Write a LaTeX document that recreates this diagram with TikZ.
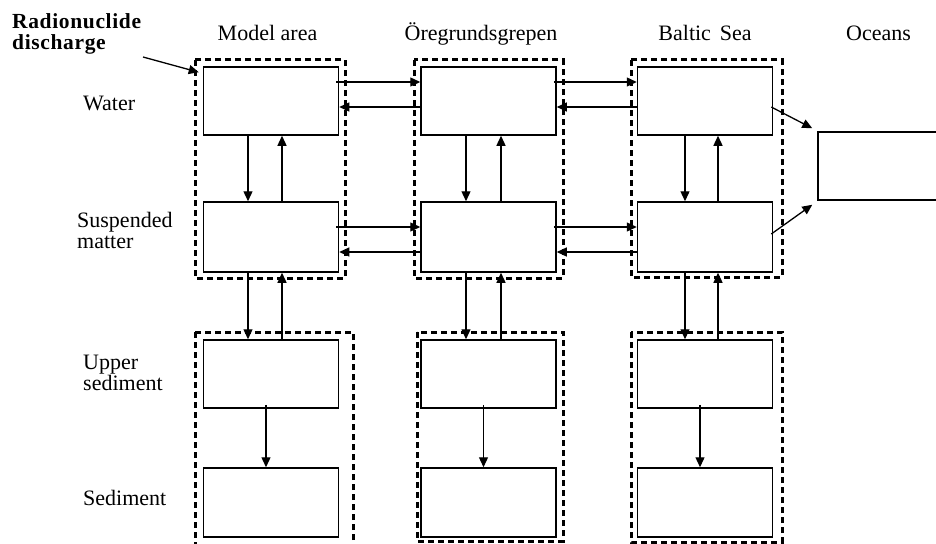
\documentclass[tikz,border=0pt]{standalone}
\usepackage{fontspec}
\setmainfont{Liberation Serif}
\usetikzlibrary{arrows.meta,calc}
\begin{document}
\begin{tikzpicture}[x=1pt,y=-1pt,
  box/.style={draw, line width=1.5pt, minimum width=135pt, minimum height=68pt, inner sep=0pt},
  grp/.style={draw, line width=3pt, dash pattern=on 6pt off 4pt},
  arr/.style={line width=1.3pt, -{Triangle[length=10pt,width=9pt]}},
  lab/.style={inner sep=0pt, font=\fontsize{22}{21}\selectfont, align=left},
  head/.style={inner sep=0pt, font=\fontsize{22}{21}\selectfont, anchor=base}]
\useasboundingbox (0,0) rectangle (936,543);
\fill[white] (0,0) rectangle (936,543);

% dashed group frames
\draw[grp] (195,60) rectangle (345,278);
\draw[grp] (414,60) rectangle (563,278);
\draw[grp] (631,60) rectangle (782,277);
\draw[grp] (195,332) rectangle (353,547);
\draw[grp] (417,332) rectangle (563,541);
\draw[grp] (631,332) rectangle (782,542);

% compartments
\node[box] (w1) at (271,101) {};
\node[box] (w2) at (488.5,101) {};
\node[box] (w3) at (705,101) {};
\node[box, minimum height=70pt] (s1) at (271,237) {};
\node[box, minimum height=70pt] (s2) at (488.5,237) {};
\node[box, minimum height=70pt] (s3) at (705,237) {};
\node[box] (u1) at (271,374) {};
\node[box] (u2) at (488.5,374) {};
\node[box] (u3) at (705,374) {};
\node[box, minimum height=69pt] (d1) at (271,502.5) {};
\node[box, minimum height=69pt] (d2) at (488.5,502.5) {};
\node[box, minimum height=69pt] (d3) at (705,502.5) {};
\node[box, minimum width=124pt] (oc) at (880,166) {};

% headings
\node[inner sep=0pt, anchor=base west, align=left, font=\fontsize{21.5}{20.5}\selectfont\bfseries\addfontfeatures{LetterSpace=3}] (rd) at (12,49) {Radionuclide\\discharge};
\node[head] (h1) at (267.5,41) {Model area};
\node[head] (h2) at (481,41) {Öregrundsgrepen};
\node[head] (h3) at (705,41) {Baltic\hspace{0.15em} Sea};
\node[head] (h4) at (878.5,41) {Oceans};

% row labels
\node[lab, anchor=base west] (lw) at (83,110) {Water};
\node[lab, anchor=base west] (ls) at (77,248) {Suspended\\matter};
\node[lab, anchor=base west] (lu) at (83,390) {Upper\\sediment};
\node[lab, anchor=base west] (ld) at (83,505) {Sediment};

% discharge arrow
\coordinate (dstart) at (143,57);
\draw[arr] (dstart) -- ($(w1.north west)+(-4,6)$);

% horizontal exchanges, water
\draw[arr] ([xshift=-3pt,yshift=19pt]w1.east) -- ([yshift=19pt]w2.west);
\draw[arr] ([yshift=-6pt]w2.west) -- ([yshift=-6pt]w1.east);
\draw[arr] ([xshift=-3pt,yshift=19pt]w2.east) -- ([yshift=19pt]w3.west);
\draw[arr] ([yshift=-6pt]w3.west) -- ([yshift=-6pt]w2.east);
% horizontal exchanges, suspended matter
\draw[arr] ([xshift=-3pt,yshift=10pt]s1.east) -- ([yshift=10pt]s2.west);
\draw[arr] ([yshift=-15pt]s2.west) -- ([yshift=-15pt]s1.east);
\draw[arr] ([xshift=-3pt,yshift=10pt]s2.east) -- ([yshift=10pt]s3.west);
\draw[arr] ([yshift=-15pt]s3.west) -- ([yshift=-15pt]s2.east);

% vertical exchanges
\foreach \c/\dx/\ux in {1/-23pt/11pt, 2/-22.5pt/12.5pt, 3/-20pt/13pt}{
  \draw[arr] ([xshift=\dx]w\c.south) -- ([xshift=\dx]s\c.north);
  \draw[arr] ([xshift=\ux]s\c.north) -- ([xshift=\ux]w\c.south);
  \draw[arr] ([xshift=\dx]s\c.south) -- ([xshift=\dx]u\c.north);
  \draw[arr] ([xshift=\ux]u\c.north) -- ([xshift=\ux]s\c.south);
  \draw[arr] ([xshift=-5pt,yshift=4pt]u\c.south) -- ([xshift=-5pt]d\c.north);
}

% to the oceans
\draw[arr] ([xshift=-2pt,yshift=-6pt]w3.east) -- ($(oc.north west)+(-5,-3)$);
\draw[arr] ([xshift=-2pt,yshift=3pt]s3.east) -- ($(oc.south west)+(-5,4)$);
\end{tikzpicture}
\end{document}
